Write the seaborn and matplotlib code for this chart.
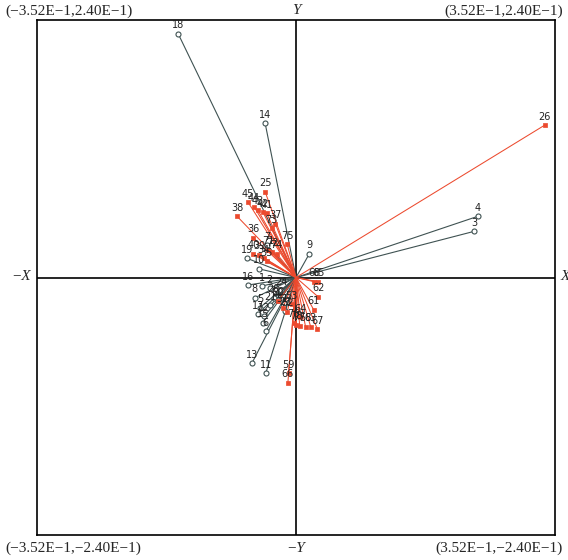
import matplotlib
matplotlib.use("Agg")
import matplotlib.pyplot as plt
import seaborn as sns
import numpy as np
import pandas as pd

# grey vectors (open circle ends)
grey_labels = ["18", "14", "4", "3", "9", "19", "10", "16", "1", "8", "5",
               "17", "12", "15", "6", "13", "11", "20", "21", "22", "23", "7",
               "2", "24"]
grey_x = [-0.160, -0.042, 0.247, 0.242, 0.018, -0.067, -0.050, -0.065, -0.046,
          -0.056, -0.049, -0.052, -0.043, -0.045, -0.041, -0.060, -0.041,
          -0.030, -0.035, -0.024, -0.015, -0.039, -0.036, -0.020]
grey_y = [0.227, 0.144, 0.057, 0.043, 0.022, 0.018, 0.008, -0.007, -0.008,
          -0.019, -0.028, -0.034, -0.036, -0.042, -0.050, -0.080, -0.089,
          -0.019, -0.026, -0.021, -0.031, 0.030, -0.010, -0.012]

# red vectors (filled square ends)
red_labels = ["26", "25", "45", "44", "43", "42", "41", "37", "73", "38", "36",
              "75", "40", "39", "71", "72", "74", "34", "35", "68", "65", "62",
              "61", "64", "67", "63", "58", "76", "78", "77", "59", "66", "50",
              "51", "52", "53"]
red_x = [0.338, -0.042, -0.065, -0.057, -0.052, -0.045, -0.040, -0.028, -0.033,
         -0.080, -0.058, -0.012, -0.058, -0.050, -0.038, -0.032, -0.026, -0.044,
         -0.040, 0.025, 0.030, 0.030, 0.024, 0.006, 0.029, 0.020, 0.013, -0.003,
         0.000, 0.005, -0.010, -0.011, -0.025, -0.018, -0.012, -0.006]
red_y = [0.142, 0.080, 0.070, 0.066, 0.063, 0.061, 0.060, 0.050, 0.046, 0.057,
         0.037, 0.031, 0.022, 0.021, 0.026, 0.024, 0.022, 0.018, 0.015, -0.004,
         -0.004, -0.018, -0.030, -0.037, -0.048, -0.046, -0.046, -0.042, -0.044,
         -0.045, -0.089, -0.098, -0.022, -0.028, -0.032, -0.025]

xlim = 0.352
ylim = 0.240

grey_df = pd.DataFrame({"label": grey_labels, "x": grey_x, "y": grey_y})
red_df = pd.DataFrame({"label": red_labels, "x": red_x, "y": red_y})

sns.set_theme(style="white")
plt.rcParams["font.family"] = ["DejaVu Sans"]

grey_color = "#3f5252"
red_color = "#ec4a2e"

fig = plt.figure(figsize=(5.68, 5.6), dpi=100)
ax = fig.add_axes([37 / 568, 25 / 560, 518 / 568, 515 / 560])

# vectors from origin
for _, r in grey_df.iterrows():
    ax.plot([0, r["x"]], [0, r["y"]], color=grey_color, lw=0.8, zorder=2)
for _, r in red_df.iterrows():
    ax.plot([0, r["x"]], [0, r["y"]], color=red_color, lw=0.75, zorder=3)

sns.scatterplot(data=grey_df, x="x", y="y", ax=ax, marker="o", s=13,
                facecolor="white", edgecolor=grey_color, linewidth=0.8, zorder=4)
sns.scatterplot(data=red_df, x="x", y="y", ax=ax, marker="s", s=7,
                color=red_color, edgecolor=red_color, linewidth=0.5, zorder=5)

for df in (grey_df, red_df):
    for _, r in df.iterrows():
        ax.annotate(r["label"], (r["x"], r["y"]), xytext=(0, 2.5),
                    textcoords="offset points", ha="center", va="bottom",
                    fontsize=7, color="#222222", zorder=6)

# central axes
ax.axhline(0, color="black", lw=1.2, zorder=1)
ax.axvline(0, color="black", lw=1.2, zorder=1)

ax.set_xlim(-xlim, xlim)
ax.set_ylim(-ylim, ylim)
ax.set_xticks([])
ax.set_yticks([])
ax.set_xlabel("")
ax.set_ylabel("")
for sp in ax.spines.values():
    sp.set_color("black")
    sp.set_linewidth(1.2)

serif = ["Liberation Serif", "DejaVu Serif"]
fs = 11
fig.text(5 / 568, 1 - 11 / 560, "(\u22123.52E\u22121,2.40E\u22121)", ha="left", va="center",
         fontsize=fs, family=serif)
fig.text(563 / 568, 1 - 11 / 560, "(3.52E\u22121,2.40E\u22121)", ha="right", va="center",
         fontsize=fs, family=serif)
fig.text(5 / 568, 1 - 548 / 560, "(\u22123.52E\u22121,\u22122.40E\u22121)", ha="left",
         va="center", fontsize=fs, family=serif)
fig.text(563 / 568, 1 - 548 / 560, "(3.52E\u22121,\u22122.40E\u22121)", ha="right",
         va="center", fontsize=fs, family=serif)
fig.text(296 / 568, 1 - 11 / 560, "Y", ha="center", va="center", fontsize=fs,
         family=serif, style="italic")
fig.text(296 / 568, 1 - 548 / 560, "\u2212Y", ha="center", va="center", fontsize=fs,
         family=serif, style="italic")
fig.text(21 / 568, 1 - 277 / 560, "\u2212X", ha="center", va="center", fontsize=fs,
         family=serif, style="italic")
fig.text(561 / 568, 1 - 277 / 560, "X", ha="left", va="center", fontsize=fs,
         family=serif, style="italic")

fig.savefig("out.png", dpi=100)
